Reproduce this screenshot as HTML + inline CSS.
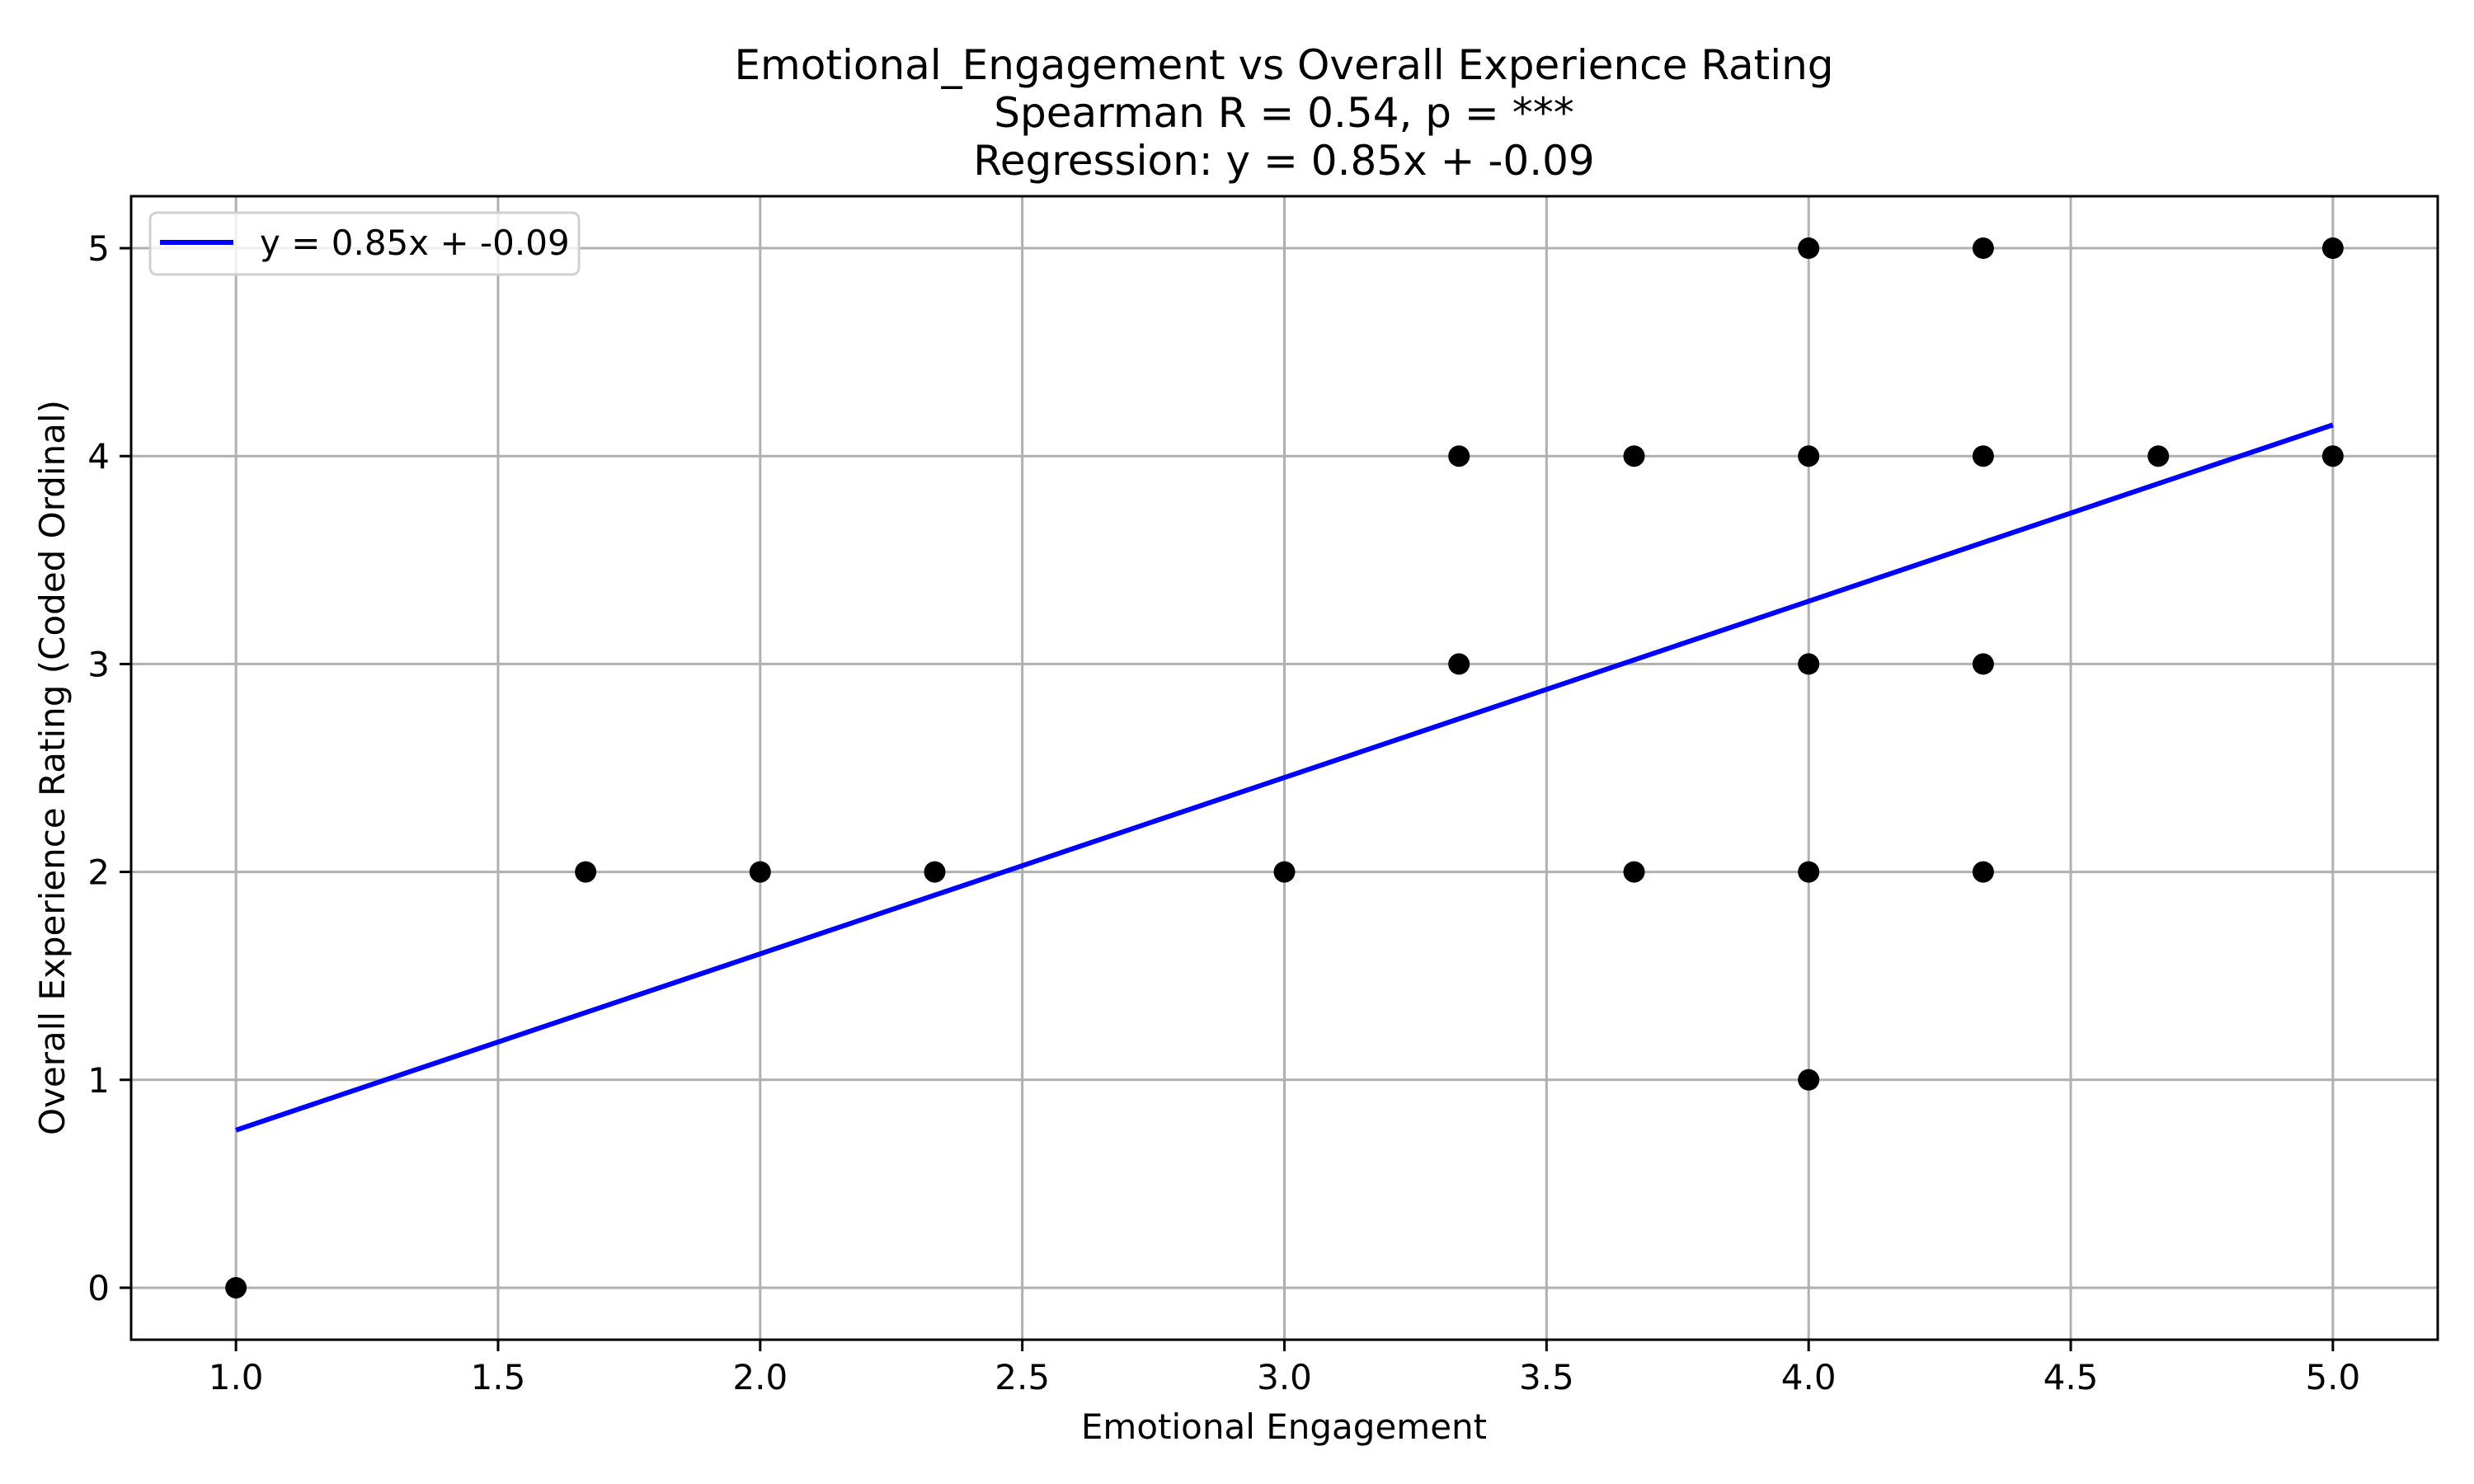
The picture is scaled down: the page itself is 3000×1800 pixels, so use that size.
<!DOCTYPE html>
<html><head><meta charset="utf-8"><style>body{margin:0;background:#fff}svg{display:block;font-family:"DejaVu Sans","Liberation Sans",sans-serif}</style></head>
<body>
<svg id="chart" width="3000" height="1800" viewBox="0 0 3000 1800">
<g id="grid"></g>
<g id="fitline"></g>
<g id="points"></g>
<rect x="159" y="238" width="2797" height="1387" fill="none" stroke="#000" stroke-width="3"/>
<g id="ticks"></g>
<text x="1557" y="96" font-size="50" text-anchor="middle">Emotional_Engagement vs Overall Experience Rating</text>
<text x="1557" y="154" font-size="50" text-anchor="middle">Spearman R = 0.54, p = ***</text>
<text x="1557" y="212" font-size="50" text-anchor="middle">Regression: y = 0.85x + -0.09</text>
<text x="1557" y="1745" font-size="42" text-anchor="middle">Emotional Engagement</text>
<text x="0" y="0" font-size="42" text-anchor="middle" transform="translate(78,931) rotate(-90)">Overall Experience Rating (Coded Ordinal)</text>
<g>
<rect x="182" y="258" width="520" height="75" rx="8" fill="#fff" fill-opacity="0.8" stroke="#d0d0d0" stroke-width="3"/>
<line x1="194" y1="294" x2="283" y2="294" stroke="#0000ff" stroke-width="6"/>
<text x="315" y="309" font-size="42">y = 0.85x + -0.09</text>
</g>
</svg>
<script>
const xs = [1, 1.667, 2, 2.333, 3, 3.333, 3.333, 3.667, 3.667, 4, 4, 4, 4, 4, 4.333, 4.333, 4.333, 4.333, 4.667, 5, 5];
const ys = [0, 2, 2, 2, 2, 4, 3, 4, 2, 5, 4, 3, 2, 1, 5, 4, 3, 2, 4, 5, 4];
const xTicks = [1.0, 1.5, 2.0, 2.5, 3.0, 3.5, 4.0, 4.5, 5.0];
const xTickLabels = ["1.0","1.5","2.0","2.5","3.0","3.5","4.0","4.5","5.0"];
const yTicks = [0, 1, 2, 3, 4, 5];
const yTickLabels = ["0","1","2","3","4","5"];
const slope = [0.848];
const intercept = [-0.09];

const X0=159,X1=2956,Y0=238,Y1=1625, xmin=0.8,xmax=5.2,ymin=-0.25,ymax=5.25;
const sx=v=>X0+(v-xmin)/(xmax-xmin)*(X1-X0);
const sy=v=>Y1-(v-ymin)/(ymax-ymin)*(Y1-Y0);
const NS="http://www.w3.org/2000/svg";
function mk(tag,attrs,parent){const e=document.createElementNS(NS,tag);for(const k in attrs)e.setAttribute(k,attrs[k]);parent.appendChild(e);return e;}
const grid=document.getElementById('grid'),ticks=document.getElementById('ticks');
xTicks.forEach((t,i)=>{
 const g=mk('line',{x1:sx(t),x2:sx(t),y1:Y0,y2:Y1,stroke:'#b0b0b0','stroke-width':3},grid);
 
 
 const tk=mk('line',{x1:sx(t),x2:sx(t),y1:Y1,y2:Y1+14,stroke:'#000','stroke-width':3},ticks);
 
 
 const tl=mk('text',{x:sx(t),y:Y1+60,'font-size':42,'text-anchor':'middle'},ticks);
 tl.textContent=xTickLabels[i];
 
 
});
yTicks.forEach((t,i)=>{
 const g=mk('line',{x1:X0,x2:X1,y1:sy(t),y2:sy(t),stroke:'#b0b0b0','stroke-width':3},grid);
 
 
 const tk=mk('line',{x1:X0-14,x2:X0,y1:sy(t),y2:sy(t),stroke:'#000','stroke-width':3},ticks);
 
 
 const tl=mk('text',{x:X0-26,y:sy(t)+15,'font-size':42,'text-anchor':'end'},ticks);
 tl.textContent=yTickLabels[i];
 
 
});
const lx0=Math.min(...xs),lx1=Math.max(...xs);
const ln=mk('line',{x1:sx(lx0),y1:sy(slope[0]*lx0+intercept[0]),x2:sx(lx1),y2:sy(slope[0]*lx1+intercept[0]),stroke:'#0000ff','stroke-width':6},document.getElementById('fitline'));


const pg=document.getElementById('points');
xs.forEach((x,i)=>{
 const c=mk('circle',{cx:sx(x),cy:sy(ys[i]),r:13,fill:'#000'},pg);
 
 
});
</script>
</body></html>
